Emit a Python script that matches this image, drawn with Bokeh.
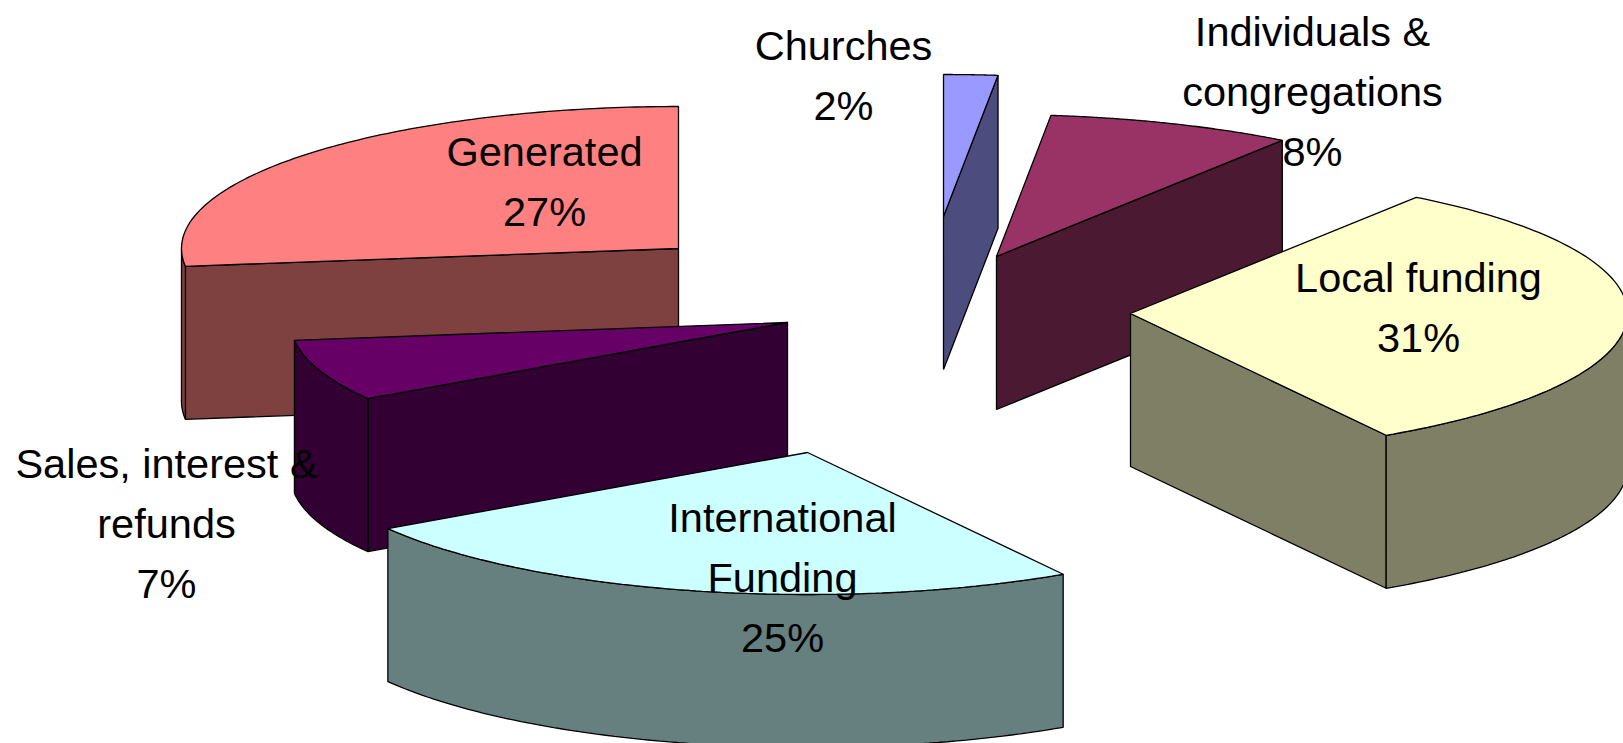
import numpy as np
from bokeh.plotting import figure
from bokeh.embed import file_html
from bokeh.resources import INLINE
from bokeh.core.properties import value

# Shares, clockwise from twelve o'clock
categories = ["Churches", "Individuals & congregations", "Local funding",
              "International Funding", "Sales, interest & refunds", "Generated"]
shares = [1.75, 8.0, 31.65, 24.6, 7.0, 27]
top_colors = ["#9999FF", "#993366", "#FFFFCC", "#CCFFFF", "#660066", "#FF8080"]
side_colors = ["#4C4C7F", "#4C1933", "#7F7F66", "#667F7F", "#330033", "#7F4040"]

# Layout of the exploded 3-D pie, in page pixels
apex_x = [943, 996, 1130, 807, 787, 678]
apex_y = [216, 256, 313, 452, 322, 248]
RX, RY, DEPTH = 497, 142, 153
draw_order = [5, 0, 1, 4, 2, 3]

# Printed labels
label_lines = [["Churches", "2%"],
               ["Individuals &", "congregations", "8%"],
               ["Local funding", "31%"],
               ["International", "Funding", "25%"],
               ["Sales, interest &", "refunds", "7%"],
               ["Generated", "27%"]]
label_x = [843, 1312, 1418, 782, 166, 544]
label_y = [45, 31, 277, 517, 463, 151]
LINE_H = 60

W, H = 1623, 743
p = figure(width=W, height=H, x_range=(0, W), y_range=(H, 0),
           output_backend="svg", toolbar_location=None, min_border=0,
           outline_line_color=None, background_fill_color="white")
p.axis.visible = False
p.grid.visible = False

edges = np.cumsum([0] + shares) / sum(shares) * 2 * np.pi


def pt(i, t):
    return apex_x[i] + RX * np.sin(t), apex_y[i] - RY * np.cos(t)


def area(xs, ys):
    xs, ys = np.asarray(xs), np.asarray(ys)
    return 0.5 * np.sum(xs * np.roll(ys, -1) - np.roll(xs, -1) * ys)


def face(xs, ys, color):
    p.patch(list(xs), list(ys), fill_color=color, line_color="black", line_width=1.3)


for i in draw_order:
    t0, t1 = edges[i], edges[i + 1]
    ax, ay = apex_x[i], apex_y[i]
    # radial walls: keep those whose outward side faces the viewer
    for t, sign in ((t0, 1), (t1, -1)):
        ex, ey = pt(i, t)
        xs = [ax, ex, ex, ax]
        ys = [ay, ey, ey + DEPTH, ay + DEPTH]
        if sign * area(xs, ys) < 0:
            face(xs, ys, side_colors[i])
    # outer wall: the part of the rim on the near half of the ellipse
    lo, hi = max(t0, np.pi / 2), min(t1, 3 * np.pi / 2)
    if hi > lo:
        ts = np.linspace(lo, hi, 80)
        x, y = pt(i, ts)
        face(np.r_[x, x[::-1]], np.r_[y, (y + DEPTH)[::-1]], side_colors[i])
    # top face
    ts = np.linspace(t0, t1, 120)
    x, y = pt(i, ts)
    face(np.r_[ax, x], np.r_[ay, y], top_colors[i])

for i in range(len(categories)):
    for k, line in enumerate(label_lines[i]):
        p.text([label_x[i]], [label_y[i] + k * LINE_H], text=[line],
               text_font=value("Liberation Sans"), text_font_size="41.5px",
               text_align="center", text_baseline="middle", text_color="black")

open("out.html", "w").write(file_html(p, INLINE))
